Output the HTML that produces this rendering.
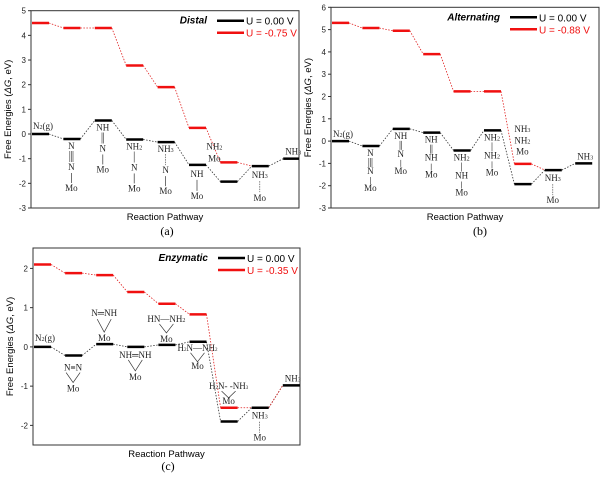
<!DOCTYPE html>
<html><head><meta charset="utf-8">
<style>
body{margin:0;background:#fff;}
svg{display:block;font-family:"Liberation Sans",sans-serif;}
.ch{font-family:"Liberation Serif","DejaVu Serif",serif;font-size:9px;fill:#222;}
.tk{font-size:8px;fill:#222;}
</style></head>
<body>
<svg id="fig" width="600" height="477" viewBox="0 0 600 477"></svg>
<script>
const aBlack=[0,-0.2,0.55,-0.22,-0.33,-1.25,-1.93,-1.3,-1.0];
const aRed=[4.5,4.3,4.3,2.78,1.9,0.25,-1.15,-1.3,-1.0];
const bBlack=[0,-0.22,0.55,0.38,-0.42,0.48,-1.93,-1.3,-1.0];
const bRed=[5.3,5.07,4.95,3.9,2.23,2.23,-1.02,-1.3,-1.0];
const cBlack=[0,-0.22,0.07,0.0,0.05,0.13,-1.9,-1.55,-0.98];
const cRed=[2.1,1.88,1.83,1.4,1.1,0.83,-1.55,-1.55,-0.98];
const aTicks=[5,4,3,2,1,0,-1,-2,-3];
const bTicks=[6,5,4,3,2,1,0,-1,-2,-3];
const cTicks=[2,1,0,-1,-2];
const NS="http://www.w3.org/2000/svg";
const svg=document.getElementById('fig');
function mk(tag,attrs,parent,text){const e=document.createElementNS(NS,tag);for(const k in attrs)e.setAttribute(k,attrs[k]);if(text!==undefined)e.textContent=text;(parent||svg).appendChild(e);return e;}
function panel(id,cfg,black,red,ticks,redBars,title,uLabel,letter){
  const g=mk('g',{});
  
  
  const y=v=>cfg.y0+(cfg.ymax-v)/(cfg.ymax-cfg.ymin)*(cfg.y1-cfg.y0);
  const xs=i=>cfg.x0+1+i*cfg.dx;
  const fr=mk('rect',{x:cfg.x0,y:cfg.y0,width:cfg.x1-cfg.x0,height:cfg.y1-cfg.y0,fill:'none',stroke:'#333','stroke-width':1},g);
  
  
  ticks.forEach(t=>{
    mk('line',{x1:cfg.x0-3,x2:cfg.x0,y1:y(t),y2:y(t),stroke:'#333'},g);
    const tl=mk('text',{x:cfg.x0-5,y:y(t)+3,'text-anchor':'end',class:'tk'},g,String(t));
    
    
  });
  const w=cfg.w;
  for(let i=0;i<black.length-1;i++){
    const c=mk('line',{x1:xs(i)+w,y1:y(black[i]),x2:xs(i+1),y2:y(black[i+1]),stroke:'#333','stroke-width':0.8,'stroke-dasharray':'1.5,1.5'},g);
    
    
  }
  for(let i=0;i<red.length-1;i++){
    if(i>=redBars && !cfg.redTail) continue;
    const c=mk('line',{x1:xs(i)+w,y1:y(red[i]),x2:xs(i+1),y2:y(red[i+1]),stroke:'#e02020','stroke-width':0.8,'stroke-dasharray':'1.5,1.5'},g);
    
    
  }
  black.forEach((v,i)=>{
    const b=mk('line',{x1:xs(i),x2:Math.min(xs(i)+w,cfg.x1),y1:y(v),y2:y(v),stroke:'#000','stroke-width':2.5},g);
    
    
  });
  red.forEach((v,i)=>{
    if(i>=redBars)return;
    const b=mk('line',{x1:xs(i),x2:xs(i)+w,y1:y(v),y2:y(v),stroke:'#f01010','stroke-width':2.5},g);
    
    
  });
  const tt=mk('text',{x:cfg.lx-10,y:cfg.y0+13,'text-anchor':'end','font-size':10,'font-weight':'bold','font-style':'italic'},g,title);
  
  
  mk('line',{x1:cfg.lx,x2:cfg.lx+27,y1:cfg.y0+10,y2:cfg.y0+10,stroke:'#000','stroke-width':2.5},g);
  const l1=mk('text',{x:cfg.lx+29,y:cfg.y0+14,'font-size':10},g,'U = 0.00 V');
  
  
  mk('line',{x1:cfg.lx,x2:cfg.lx+27,y1:cfg.y0+22,y2:cfg.y0+22,stroke:'#f01010','stroke-width':2.5},g);
  const l2=mk('text',{x:cfg.lx+29,y:cfg.y0+26,'font-size':10,fill:'#f01010'},g,uLabel);
  
  
  const xl=mk('text',{x:(cfg.x0+cfg.x1)/2,y:cfg.y1+12,'text-anchor':'middle','font-size':9.5},g,'Reaction Pathway');
  
  
  const yc=(cfg.y0+cfg.y1)/2;
  const yl=mk('text',{x:cfg.x0-20,y:yc,'text-anchor':'middle','font-size':9.5,transform:`rotate(-90 ${cfg.x0-20} ${yc})`},g);
  yl.innerHTML='Free Energies (<tspan font-style="italic">ΔG</tspan>, eV)';
  
  
  const lt=mk('text',{x:cfg.letx,y:cfg.lety,'text-anchor':'middle','font-size':12,'font-family':'Liberation Serif, serif'},g,letter);
  
  
  return {g,y,xs};
}
function lab(g,x,y,t,sz){const e=mk('text',{x:x,y:y,class:'ch','text-anchor':'middle','font-size':sz||9},g);e.innerHTML=t;return e;}
function bond(g,x,y1,y2,n,dash){for(let k=0;k<n;k++){const dx=(k-(n-1)/2)*1.6;mk('line',{x1:x+dx,x2:x+dx,y1:y1,y2:y2,stroke:'#333','stroke-width':0.6,'stroke-dasharray':dash?'1.5,1':'none'},g);}}
function tri(g,x,yTop,yBot){mk('polyline',{points:`${x-7},${yTop} ${x},${yBot} ${x+7},${yTop}`,fill:'none',stroke:'#333','stroke-width':0.7},g);}

const A=panel('distal',{x0:31,x1:299,y0:10.7,y1:208,ymax:5,ymin:-3,dx:31.4,w:17,lx:217,letx:167,lety:235},aBlack,aRed,aTicks,7,'Distal','U = -0.75 V','(a)');
lab(A.g,43,129,'N<tspan font-size="6">2</tspan>(g)',9);
[[1,'N',3,'N'],[2,'NH',2,'N'],[3,'NH<tspan font-size="6">2</tspan>',1,'N'],[4,'NH<tspan font-size="6">3</tspan>',0,'N']].forEach(([i,a,nb,c])=>{
  const x=A.xs(i)+8, y0=A.y(aBlack[i]);
  lab(A.g,x,y0+10,a);lab(A.g,x,y0+31,c);lab(A.g,x,y0+52,'Mo');
  bond(A.g,x,y0+12,y0+23,nb||1,nb===0);
  mk('line',{x1:x,x2:x,y1:y0+34,y2:y0+44,stroke:'#333','stroke-width':0.7},A.g);
});
lab(A.g,A.xs(5)+8,A.y(-1.25)+12,'NH');lab(A.g,A.xs(5)+8,A.y(-1.25)+34,'Mo');
mk('line',{x1:A.xs(5)+8,x2:A.xs(5)+8,y1:A.y(-1.25)+15,y2:A.y(-1.25)+26,stroke:'#333','stroke-width':0.7},A.g);
lab(A.g,A.xs(6)-6,A.y(-0.5)+3,'NH<tspan font-size="6">2</tspan>');lab(A.g,A.xs(6)-6,A.y(-1)+3,'Mo');
mk('line',{x1:A.xs(6)-6,x2:A.xs(6)-6,y1:A.y(-0.55)+5,y2:A.y(-1)-6,stroke:'#333','stroke-width':0.7},A.g);
lab(A.g,A.xs(7)+8,A.y(-1.3)+12,'NH<tspan font-size="6">3</tspan>');lab(A.g,A.xs(7)+8,A.y(-1.3)+35,'Mo');
bond(A.g,A.xs(7)+8,A.y(-1.3)+15,A.y(-1.3)+26,1,true);
lab(A.g,A.xs(8)+10,A.y(-1)-4,'NH<tspan font-size="6">3</tspan>');

const B=panel('alternating',{x0:331,x1:599,y0:7.3,y1:208,ymax:6,ymin:-3,dx:30.4,w:17,lx:510,letx:480,lety:235},bBlack,bRed,bTicks,7,'Alternating','U = -0.88 V','(b)');
lab(B.g,343,137,'N<tspan font-size="6">2</tspan>(g)',9);
[[1,'N','N',3],[2,'NH','N',2],[3,'NH','NH',2],[4,'NH<tspan font-size="6">2</tspan>','NH',1],[5,'NH<tspan font-size="6">2</tspan>','NH<tspan font-size="6">2</tspan>',1]].forEach(([i,a,c,nb])=>{
  const x=B.xs(i)+8, y0=B.y(bBlack[i]);
  lab(B.g,x,y0+10,a,8);lab(B.g,x,y0+28,c,8);lab(B.g,x,y0+45,'Mo',8);
  bond(B.g,x,y0+12,y0+21,nb,false);
  mk('line',{x1:x,x2:x,y1:y0+31,y2:y0+38,stroke:'#333','stroke-width':0.6},B.g);
});
lab(B.g,B.xs(6)+8,B.y(0.4),'NH<tspan font-size="6">3</tspan>',8);lab(B.g,B.xs(6)+8,B.y(-0.1),'NH<tspan font-size="6">2</tspan>',8);lab(B.g,B.xs(6)+8,B.y(-0.6),'Mo',8);
lab(B.g,B.xs(7)+8,B.y(-1.3)+11,'NH<tspan font-size="6">3</tspan>',8);lab(B.g,B.xs(7)+8,B.y(-1.3)+33,'Mo',8);
bond(B.g,B.xs(7)+8,B.y(-1.3)+14,B.y(-1.3)+25,1,true);
lab(B.g,B.xs(8)+10,B.y(-1)-4,'NH<tspan font-size="6">3</tspan>');

const C=panel('enzymatic',{x0:33,x1:300,y0:248,y1:445,ymax:2.52,ymin:-2.5,dx:31.1,w:17,lx:218,letx:168,lety:470,redTail:true},cBlack,cRed,cTicks,7,'Enzymatic','U = -0.35 V','(c)');
lab(C.g,45,341,'N<tspan font-size="6">2</tspan>(g)',9);
lab(C.g,C.xs(1)+8,C.y(-0.22)+15,'N≡N',9);tri(C.g,C.xs(1)+8,C.y(-0.22)+17,C.y(-0.22)+27);lab(C.g,C.xs(1)+8,C.y(-0.22)+36,'Mo',10);
lab(C.g,C.xs(2)+8,C.y(0.07)-28,'N═NH',9);tri(C.g,C.xs(2)+8,C.y(0.07)-25,C.y(0.07)-12);lab(C.g,C.xs(2)+8,C.y(0.07)-3,'Mo',10);
lab(C.g,C.xs(3)+8,C.y(0)+11,'NH═NH',9);tri(C.g,C.xs(3)+8,C.y(0)+13,C.y(0)+24);lab(C.g,C.xs(3)+8,C.y(0)+33,'Mo',10);
lab(C.g,C.xs(4)+8,C.y(0.05)-23,'HN—NH<tspan font-size="6">2</tspan>',8);tri(C.g,C.xs(4)+8,C.y(0.05)-21,C.y(0.05)-12);lab(C.g,C.xs(4)+8,C.y(0.05)-3,'Mo',10);
lab(C.g,C.xs(5)+8,C.y(0.13)+9,'H<tspan font-size="5">2</tspan>N—NH<tspan font-size="5">2</tspan>',7);tri(C.g,C.xs(5)+8,C.y(0.13)+11,C.y(0.13)+20);lab(C.g,C.xs(5)+8,C.y(0.13)+27,'Mo',8);
lab(C.g,C.xs(6)+8,C.y(-1)+3,'H<tspan font-size="5">2</tspan>N- -NH<tspan font-size="5">3</tspan>',7);tri(C.g,C.xs(6)+8,C.y(-1)+5,C.y(-1.3));lab(C.g,C.xs(6)+8,C.y(-1.45),'Mo',9);
lab(C.g,C.xs(7)+8,C.y(-1.55)+11,'NH<tspan font-size="6">3</tspan>',8);lab(C.g,C.xs(7)+8,C.y(-1.55)+33,'Mo',9);
bond(C.g,C.xs(7)+8,C.y(-1.55)+14,C.y(-1.55)+25,1,true);
lab(C.g,C.xs(8)+10,C.y(-0.98)-4,'NH<tspan font-size="6">3</tspan>');
</script>
</body></html>
